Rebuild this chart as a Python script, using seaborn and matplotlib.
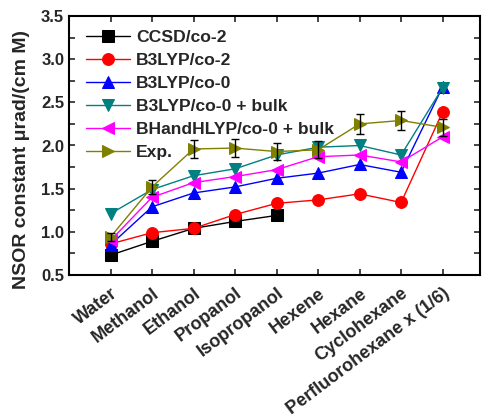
import numpy as np
import pandas as pd
import matplotlib
matplotlib.use("Agg")
import matplotlib.pyplot as plt
import seaborn as sns

categories = ["Water", "Methanol", "Ethanol", "Propanol", "Isopropanol",
              "Hexene", "Hexane", "Cyclohexane", "Perfluorohexane x (1/6)"]

ccsd_co2 = [0.73, 0.89, 1.04, 1.12, 1.19, np.nan, np.nan, np.nan, np.nan]
b3lyp_co2 = [0.86, 0.99, 1.04, 1.20, 1.33, 1.37, 1.44, 1.34, 2.39]
b3lyp_co0 = [0.85, 1.29, 1.45, 1.52, 1.62, 1.68, 1.78, 1.69, 2.68]
b3lyp_co0_bulk = [1.21, 1.49, 1.65, 1.73, 1.89, 1.98, 2.00, 1.89, 2.67]
bhandhlyp_co0_bulk = [0.90, 1.40, 1.57, 1.64, 1.72, 1.87, 1.89, 1.81, 2.10]
exp_vals = [0.94, 1.52, 1.96, 1.97, 1.93, 1.95, 2.25, 2.29, 2.21]
exp_err = [0.05, 0.08, 0.10, 0.10, 0.10, 0.10, 0.12, 0.11, 0.10]

series_names = ["CCSD/co-2", "B3LYP/co-2", "B3LYP/co-0", "B3LYP/co-0 + bulk",
                "BHandHLYP/co-0 + bulk", "Exp."]
series_vals = [ccsd_co2, b3lyp_co2, b3lyp_co0, b3lyp_co0_bulk, bhandhlyp_co0_bulk, exp_vals]
colors = ["#000000", "#ff0000", "#0000ff", "#008080", "#ff00ff", "#808000"]
markers = ["s", "o", "^", "v", "<", ">"]

sns.set_theme(style="ticks")
plt.rcParams["font.family"] = ["Liberation Sans", "DejaVu Sans"]
plt.rcParams["font.weight"] = "bold"

fig = plt.figure(figsize=(4.84, 4.20), dpi=100)
ax = fig.add_axes([69/484, 1-275/420, (480-69)/484, (275-16)/420])

pos = np.arange(len(categories))
for name, vals, c, m in zip(series_names, series_vals, colors, markers):
    df = pd.DataFrame({"x": pos, "y": vals}).dropna()
    sns.lineplot(data=df, x="x", y="y", ax=ax, color=c, marker=m, markersize=8.5,
                 markeredgecolor=c, linewidth=1, label=name)

ax.errorbar(pos, exp_vals, yerr=exp_err, fmt="none", ecolor="black",
            elinewidth=1, capsize=3, capthick=1, zorder=5)

ax.set_xlim(-1, 8.9)
ax.set_ylim(0.5, 3.5)
ax.set_xticks(pos)
ax.set_xticklabels(categories, rotation=37, ha="right", va="top",
                   rotation_mode="anchor", fontsize=13, fontweight="bold")
ax.set_yticks(np.arange(0.5, 3.51, 0.5))
ax.set_yticklabels([f"{v:.1f}" for v in np.arange(0.5, 3.51, 0.5)],
                   fontsize=12, fontweight="bold")
ax.set_yticks(np.arange(0.75, 3.5, 0.5), minor=True)
ax.tick_params(axis="both", which="both", direction="in", top=True, right=True,
               length=4, width=1.2)
ax.tick_params(axis="x", which="major", pad=7)
ax.set_xlabel("")
ax.set_ylabel("NSOR constant μrad/(cm M)", fontsize=14, fontweight="bold")
ax.yaxis.set_label_coords(-0.095, 0.446)
for s in ax.spines.values():
    s.set_linewidth(1.5)
    s.set_color("black")

leg = ax.legend(loc="upper left", bbox_to_anchor=(0.012, 0.995), frameon=False,
                fontsize=12.6, handlelength=2.5, borderaxespad=0.3,
                labelspacing=0.45, handletextpad=0.35)
for t in leg.get_texts():
    t.set_fontweight("bold")

fig.savefig("out.png", dpi=100)
